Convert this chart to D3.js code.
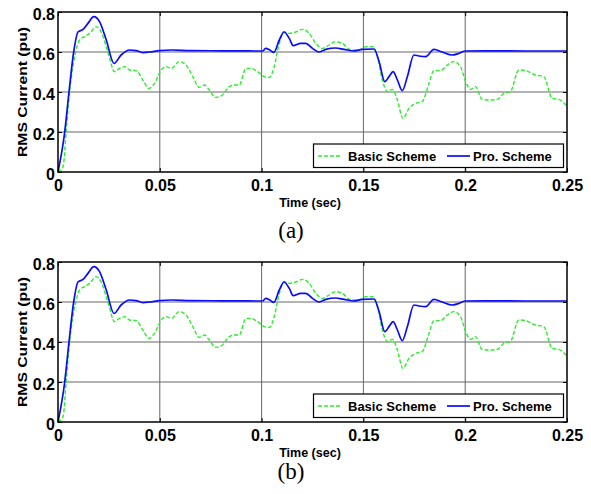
<!DOCTYPE html>
<html>
<head>
<meta charset="utf-8">
<script src="https://cdnjs.cloudflare.com/ajax/libs/d3/7.8.5/d3.min.js"></script>
<style>
 body { margin:0; background:#fff; }
 svg { display:block; }
</style>
</head>
<body>
<div id="chart"></div>
<script>
// RMS current, basic vs proposed scheme (both panels show the same run)
var proT = [0,0.0033,0.0054,0.0077,0.0098,0.0123,0.0147,0.0176,0.0204,0.0237,0.0275,0.031,0.0351,0.0384,0.0417,0.045,0.0498,0.056,0.065,0.08,0.1005,0.102,0.104,0.106,0.1087,0.111,0.1136,0.1155,0.1192,0.1217,0.125,0.1283,0.1315,0.1364,0.1405,0.1454,0.1495,0.1552,0.1577,0.1605,0.1626,0.1646,0.1667,0.1691,0.1716,0.1748,0.1773,0.1806,0.1846,0.1887,0.1936,0.1969,0.2002,0.21,0.23,0.25];
var proV = [0,0.2,0.4,0.6,0.70,0.713,0.743,0.777,0.752,0.66,0.543,0.585,0.61,0.607,0.597,0.6,0.607,0.61,0.607,0.606,0.605,0.618,0.61,0.598,0.66,0.70,0.668,0.632,0.643,0.643,0.618,0.60,0.613,0.62,0.613,0.605,0.613,0.615,0.552,0.452,0.477,0.502,0.46,0.407,0.477,0.585,0.58,0.577,0.613,0.60,0.585,0.593,0.605,0.606,0.605,0.605];

var basicT = [0,0.0025,0.004,0.0057,0.0087,0.0106,0.0131,0.0155,0.0188,0.0212,0.0245,0.0278,0.0302,0.0327,0.0351,0.0384,0.0417,0.0446,0.0474,0.0507,0.0531,0.0556,0.0596,0.0629,0.0662,0.0694,0.0719,0.0743,0.0773,0.0801,0.0842,0.0866,0.089,0.0923,0.0948,0.098,0.1013,0.1038,0.1062,0.1087,0.1111,0.1136,0.1168,0.1201,0.1234,0.1266,0.1299,0.1332,0.1364,0.1397,0.1438,0.1479,0.1512,0.1544,0.1569,0.1593,0.1618,0.1642,0.1667,0.1694,0.1724,0.1757,0.1789,0.1822,0.1846,0.1879,0.1912,0.1944,0.1977,0.2002,0.2026,0.2051,0.2083,0.2116,0.2157,0.219,0.2222,0.2263,0.2296,0.2345,0.2386,0.2427,0.2459,0.25];
var basicV = [0,0.027,0.2,0.4,0.6,0.66,0.677,0.693,0.727,0.70,0.60,0.502,0.518,0.527,0.51,0.507,0.46,0.418,0.443,0.51,0.527,0.518,0.552,0.535,0.477,0.423,0.435,0.41,0.373,0.38,0.427,0.435,0.435,0.518,0.518,0.502,0.477,0.473,0.527,0.643,0.70,0.693,0.70,0.713,0.693,0.643,0.618,0.635,0.652,0.643,0.61,0.61,0.627,0.627,0.577,0.46,0.402,0.413,0.36,0.268,0.318,0.343,0.352,0.443,0.507,0.507,0.535,0.552,0.527,0.452,0.413,0.427,0.363,0.36,0.363,0.393,0.402,0.51,0.507,0.485,0.477,0.368,0.363,0.33];

var xTicks = [0,0.05,0.1,0.15,0.2,0.25];
var xTickLabels = ["0","0.05","0.1","0.15","0.2","0.25"];
var yTicks = [0,0.2,0.4,0.6,0.8];
var yTickLabels = ["0","0.2","0.4","0.6","0.8"];
var seriesNames = ["Basic Scheme","Pro. Scheme"];
var panelLabels = ["(a)","(b)"];

var W = 591, H = 494;
var svg = d3.select("#chart").append("svg").attr("width", W).attr("height", H);

var left = 58, right = 567;
var panelTops = [12, 262];
var panelLabelY = [238, 479];
var plotH = 160;
var sans = "'Liberation Sans', Arial, sans-serif";

var x = d3.scaleLinear().domain([0,0.25]).range([left,right]);

panelTops.forEach(function(top, pi) {
  var y = d3.scaleLinear().domain([0,0.8]).range([top+plotH, top]);
  var g = svg.append("g");

  // grid
  g.selectAll(".hg").data(yTicks.slice(1,-1)).enter().append("line")
    .attr("x1", left).attr("x2", right)
    .attr("y1", function(d){ return y(d); }).attr("y2", function(d){ return y(d); })
    .style("stroke", "#9a9a9a").style("stroke-width", 1.5);
  g.selectAll(".vg").data(xTicks.slice(1,-1)).enter().append("line")
    .attr("y1", top).attr("y2", top+plotH)
    .attr("x1", function(d){ return x(d); }).attr("x2", function(d){ return x(d); })
    .style("stroke", "#666").style("stroke-width", 1);

  // curves
  var line = d3.line()
    .x(function(d){ return x(d[0]); })
    .y(function(d){ return y(d[1]); })
    .curve(d3.curveMonotoneX);

  g.append("path").datum(d3.zip(basicT, basicV))
    .attr("d", line).style("fill", "none")
    .style("stroke", "#2af02a").style("stroke-width", 1.4)
    .style("stroke-dasharray", "4,2");
  g.append("path").datum(d3.zip(proT, proV))
    .attr("d", line).style("fill", "none")
    .style("stroke", "#0a0aff").style("stroke-width", 1.7);

  // axes (ticks inward, box)
  var axB = g.append("g").attr("transform", "translate(0," + (top+plotH) + ")")
    .call(d3.axisBottom(x).tickValues(xTicks).tickFormat(function(d,i){ return xTickLabels[i]; }).tickSize(-4).tickPadding(8));
  var axL = g.append("g").attr("transform", "translate(" + left + ",0)")
    .call(d3.axisLeft(y).tickValues(yTicks).tickFormat(function(d,i){ return yTickLabels[i]; }).tickSize(-4).tickPadding(3));
  g.append("g").attr("transform", "translate(0," + top + ")")
    .call(d3.axisTop(x).tickValues(xTicks).tickFormat("").tickSize(-4));
  g.append("g").attr("transform", "translate(" + right + ",0)")
    .call(d3.axisRight(y).tickValues(yTicks).tickFormat("").tickSize(-4));
  g.selectAll(".domain").remove();
  g.selectAll(".tick line").style("stroke", "#000");
  axB.selectAll("text").style("font-family", sans)
    .style("font-weight", "bold").style("font-size", "16px").style("fill", "#000");
  axL.selectAll("text").style("font-family", sans)
    .style("font-weight", "bold").style("font-size", "16px").style("fill", "#000")
    .attr("dy", "0.45em");

  g.append("rect").attr("x", left).attr("y", top).attr("width", right-left).attr("height", plotH)
    .style("fill", "none").style("stroke", "#000").style("stroke-width", 1.5);

  // legend
  var lg = g.append("g");
  var ly = top + 144;
  lg.append("rect").attr("x", 313.5).attr("y", top+132).attr("width", 250).attr("height", 23.5)
    .style("fill", "#fff").style("stroke", "#000").style("stroke-width", 1.2);
  lg.append("line").attr("x1", 318).attr("x2", 342).attr("y1", ly).attr("y2", ly)
    .style("stroke", "#2af02a").style("stroke-width", 1.4).style("stroke-dasharray", "4,2");
  lg.append("text").attr("x", 348).attr("y", ly+5).text(seriesNames[0]);
  lg.append("line").attr("x1", 447).attr("x2", 470).attr("y1", ly).attr("y2", ly)
    .style("stroke", "#0a0aff").style("stroke-width", 1.7);
  lg.append("text").attr("x", 473).attr("y", ly+5).text(seriesNames[1]);
  lg.selectAll("text").style("font-family", sans)
    .style("font-weight", "bold").style("font-size", "13px");

  // axis titles
  g.append("text").attr("x", 310).attr("y", top + 195).attr("text-anchor", "middle")
    .style("font-family", sans).style("font-weight", "bold")
    .style("font-size", "12.5px").text("Time (sec)");
  g.append("text").attr("transform", "translate(27," + (top + 80) + ") rotate(-90)")
    .attr("text-anchor", "middle")
    .attr("textLength", 130).attr("lengthAdjust", "spacingAndGlyphs")
    .style("font-family", sans).style("font-weight", "bold")
    .style("font-size", "13.5px").text("RMS Current (pu)");

  g.append("text").attr("x", 291).attr("y", panelLabelY[pi]).attr("text-anchor", "middle")
    .style("font-family", "'Liberation Serif', 'Times New Roman', serif")
    .style("font-size", "23px").text(panelLabels[pi]);
});
</script>
</body>
</html>
